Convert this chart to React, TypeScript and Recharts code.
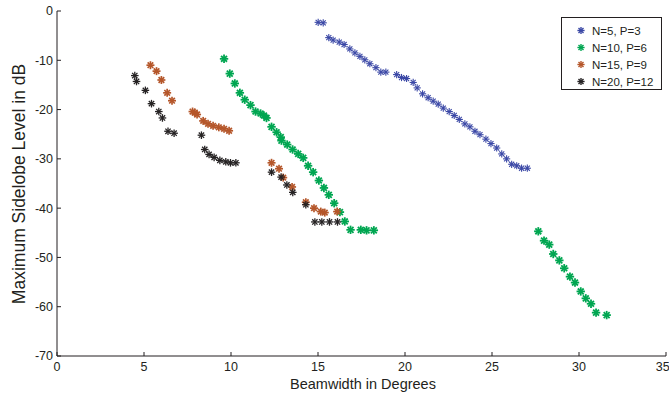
import { ScatterChart, Scatter, XAxis, YAxis, Legend } from "recharts";

// Beamwidth (deg) and max sidelobe level (dB)
const n5Beam = [15.01, 15.3, 15.62, 15.87, 16.22, 16.5, 16.83, 17.12, 17.41, 17.69, 17.98, 18.33, 18.61, 18.9, 19.52, 19.8, 20.09, 20.47, 20.7, 21.01, 21.33, 21.62, 21.91, 22.2, 22.54, 22.83, 23.12, 23.44, 23.73, 24.02, 24.31, 24.65, 24.94, 25.27, 25.56, 25.84, 26.13, 26.42, 26.7, 27.03];
const n5Sll = [-2.3, -2.4, -5.4, -5.9, -6.3, -6.8, -7.7, -8.5, -9.2, -9.9, -10.7, -11.5, -12.4, -12.4, -12.9, -13.5, -13.7, -14.5, -15.6, -16.8, -17.6, -18.3, -18.9, -19.7, -20.4, -21.2, -22.0, -22.9, -23.5, -24.4, -25.1, -26.0, -26.9, -27.8, -29.0, -30.0, -31.1, -31.4, -31.9, -31.9];

const n10Beam = [9.6, 9.93, 10.22, 10.51, 10.79, 11.12, 11.41, 11.7, 11.89, 12.04, 12.33, 12.62, 12.86, 12.9, 13.23, 13.54, 13.86, 14.15, 14.43, 14.72, 15.05, 15.34, 15.62, 15.93, 16.26, 16.54, 16.87, 17.46, 17.79, 18.21, 27.66, 27.99, 28.29, 28.52, 28.87, 29.15, 29.48, 29.77, 30.1, 30.39, 30.69, 30.98, 31.59];
const n10Sll = [-9.7, -12.7, -14.7, -16.6, -18.0, -19.1, -20.4, -20.8, -21.2, -21.7, -23.5, -24.6, -25.6, -26.3, -27.1, -28.1, -29.0, -29.8, -31.4, -32.7, -34.4, -35.9, -37.3, -39.0, -40.8, -42.7, -44.4, -44.4, -44.5, -44.5, -44.7, -46.6, -47.4, -49.3, -50.6, -52.2, -53.9, -55.1, -56.9, -58.3, -59.4, -61.2, -61.7];

const n15Beam = [5.37, 5.72, 6.0, 6.33, 6.61, 7.79, 7.92, 8.05, 8.4, 8.68, 8.97, 9.3, 9.6, 9.89, 12.33, 12.76, 13.0, 13.51, 14.3, 14.77, 15.16, 15.39, 16.1];
const n15Sll = [-11.0, -12.2, -14.0, -16.6, -18.2, -20.4, -20.6, -21.0, -22.3, -22.9, -23.3, -23.6, -23.9, -24.3, -30.8, -32.0, -33.8, -35.7, -38.8, -40.0, -40.7, -40.9, -40.7];

const n20Beam = [4.47, 4.57, 5.08, 5.43, 5.85, 6.06, 6.38, 6.73, 8.3, 8.49, 8.74, 9.03, 9.36, 9.7, 9.97, 10.28, 12.33, 12.88, 13.21, 13.55, 14.3, 14.82, 15.22, 15.66, 16.12];
const n20Sll = [-13.1, -14.3, -16.1, -18.8, -20.4, -21.7, -24.4, -24.8, -25.2, -28.1, -29.1, -29.7, -30.3, -30.6, -30.8, -30.8, -32.7, -33.7, -35.3, -36.8, -39.3, -42.8, -42.8, -42.8, -42.8];

const xTicks = [0, 5, 10, 15, 20, 25, 30, 35];
const yTicks = [-70, -60, -50, -40, -30, -20, -10, 0];

const toPoints = (xs: number[], ys: number[]) => xs.map((x, i) => ({ x, y: ys[i] }));

const series = [
  { name: "N=5, P=3", color: "#3b48a6", r: 3.6, w: 1.1, data: toPoints(n5Beam, n5Sll) },
  { name: "N=10, P=6", color: "#00a651", r: 4.2, w: 1.8, data: toPoints(n10Beam, n10Sll) },
  { name: "N=15, P=9", color: "#b5572b", r: 4, w: 1.7, data: toPoints(n15Beam, n15Sll) },
  { name: "N=20, P=12", color: "#262324", r: 3.8, w: 1.3, data: toPoints(n20Beam, n20Sll) },
];

const FONT = "'Liberation Sans', Arial, Helvetica, sans-serif";

function Asterisk({ cx, cy, color, r, w }: { cx: number; cy: number; color: string; r: number; w: number }) {
  const d = r * 0.7;
  return (
    <g stroke={color} strokeWidth={w} strokeLinecap="butt">
      <line x1={cx - r} y1={cy} x2={cx + r} y2={cy} />
      <line x1={cx} y1={cy - r} x2={cx} y2={cy + r} />
      <line x1={cx - d} y1={cy - d} x2={cx + d} y2={cy + d} />
      <line x1={cx - d} y1={cy + d} x2={cx + d} y2={cy - d} />
    </g>
  );
}

function LegendBox() {
  return (
    <div
      style={{
        border: "1px solid #231f20",
        background: "#fff",
        boxSizing: "border-box",
        width: 101,
        height: 73,
        paddingTop: 4,
        fontFamily: FONT,
        fontSize: 11.5,
        color: "#231f20",
      }}
    >
      {series.map((s) => (
        <div key={s.name} style={{ display: "flex", alignItems: "center", height: 17 }}>
          <svg width={30} height={17} style={{ flex: "none" }}>
            <Asterisk cx={19} cy={8.5} color={s.color} r={3.6} w={1.4} />
          </svg>
          <span style={{ whiteSpace: "nowrap" }}>{s.name}</span>
        </div>
      ))}
    </div>
  );
}

export default function App() {
  const tickStyle = { fill: "#231f20", fontSize: 12.5, fontFamily: FONT };
  return (
    <div style={{ position: "absolute", left: 0, top: 0, background: "#fff" }}>
      <ScatterChart width={669} height={400} margin={{ top: 11, right: 3, bottom: 0, left: 0 }}>
        <XAxis
          type="number"
          dataKey="x"
          domain={[0, 35]}
          ticks={xTicks}
          allowDataOverflow
          height={44}
          tickSize={-4}
          tickMargin={10}
          tick={tickStyle}
          axisLine={{ stroke: "#231f20" }}
          tickLine={{ stroke: "#231f20" }}
          label={{
            content: () => (
              <text x={363} y={389} textAnchor="middle" fontSize={14.5} fontFamily={FONT} fill="#231f20">
                Beamwidth in Degrees
              </text>
            ),
          }}
        />
        <XAxis
          xAxisId="top"
          orientation="top"
          type="number"
          dataKey="x"
          domain={[0, 35]}
          ticks={xTicks}
          height={0}
          tickSize={-4}
          tickFormatter={() => ""}
          axisLine={{ stroke: "#231f20" }}
          tickLine={{ stroke: "#231f20" }}
        />
        <YAxis
          type="number"
          dataKey="y"
          domain={[-70, 0]}
          ticks={yTicks}
          allowDataOverflow
          width={57}
          tickSize={-4}
          tickMargin={8}
          tick={tickStyle}
          axisLine={{ stroke: "#231f20" }}
          tickLine={{ stroke: "#231f20" }}
          label={{
            content: () => (
              <text
                x={25}
                y={184}
                transform="rotate(-90, 25, 184)"
                textAnchor="middle"
                fontSize={17.5}
                fontFamily={FONT}
                fill="#231f20"
              >
                Maximum Sidelobe Level in dB
              </text>
            ),
          }}
        />
        <YAxis
          yAxisId="right"
          orientation="right"
          type="number"
          dataKey="y"
          domain={[-70, 0]}
          ticks={yTicks}
          width={0}
          tickSize={-4}
          tickFormatter={() => ""}
          axisLine={{ stroke: "#231f20" }}
          tickLine={{ stroke: "#231f20" }}
        />
        <Legend
          layout="horizontal"
          verticalAlign="middle"
          align="center"
          wrapperStyle={{ top: 17, left: 561, width: 101, height: 73 }}
          content={() => <LegendBox />}
        />
        {series.map((s) => (
          <Scatter
            key={s.name}
            name={s.name}
            data={s.data}
            fill={s.color}
            isAnimationActive={false}
            shape={(p: any) => <Asterisk cx={p.cx} cy={p.cy} color={s.color} r={s.r} w={s.w} />}
          />
        ))}
      </ScatterChart>
    </div>
  );
}
